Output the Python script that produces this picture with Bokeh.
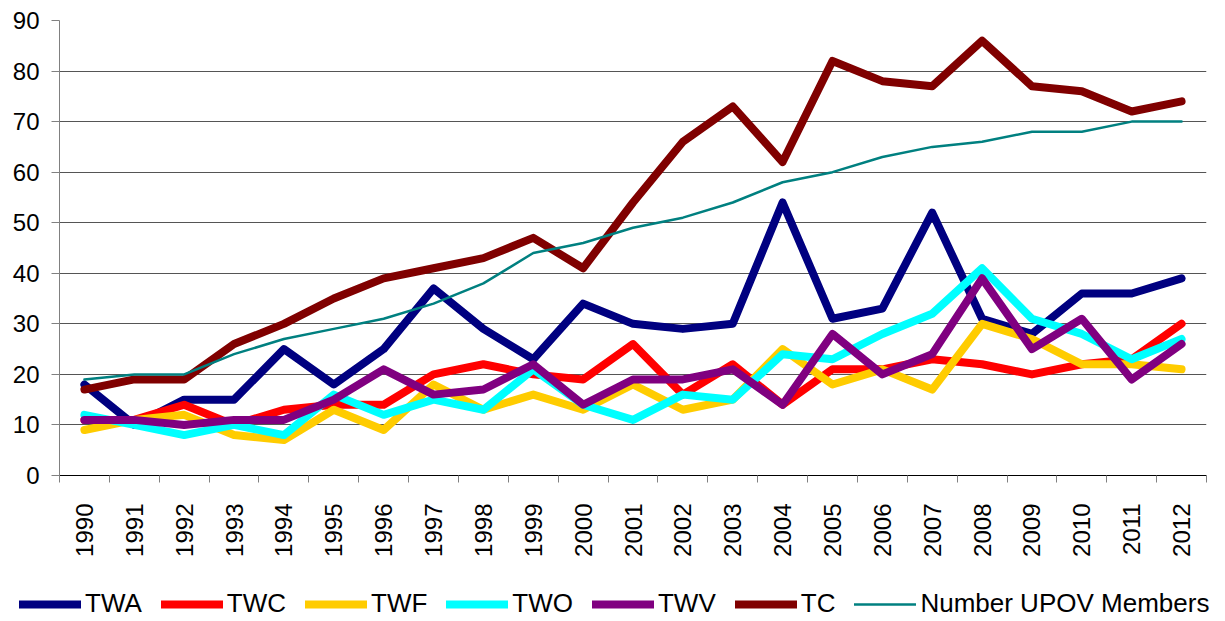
from bokeh.plotting import figure
from bokeh.models import FixedTicker, Legend, LegendItem, Range1d
from bokeh.embed import file_html
from bokeh.resources import INLINE

years = list(range(1990, 2013))
twa = [18, 10, 15, 15, 25, 18, 25, 37, 29, 23, 34, 30, 29, 30, 54, 31, 33, 52, 31, 28, 36, 36, 39]
twc = [11, 11, 14, 10, 13, 14, 14, 20, 22, 20, 19, 26, 16, 22, 14, 21, 21, 23, 22, 20, 22, 23, 30]
twf = [9, 11, 12, 8, 7, 13, 9, 18, 13, 16, 13, 18, 13, 15, 25, 18, 21, 17, 30, 27, 22, 22, 21]
two = [12, 10, 8, 10, 8, 16, 12, 15, 13, 21, 14, 11, 16, 15, 24, 23, 28, 32, 41, 31, 28, 23, 27]
twv = [11, 11, 10, 11, 11, 15, 21, 16, 17, 22, 14, 19, 19, 21, 14, 28, 20, 24, 39, 25, 31, 19, 26]
tc = [17, 19, 19, 26, 30, 35, 39, 41, 43, 47, 41, 54, 66, 73, 62, 82, 78, 77, 86, 77, 76, 72, 74]
upov = [19, 20, 20, 24, 27, 29, 31, 34, 38, 44, 46, 49, 51, 54, 58, 60, 63, 65, 66, 68, 68, 70, 70]

names = ["TWA", "TWC", "TWF", "TWO", "TWV", "TC", "Number UPOV Members"]
values = [twa, twc, twf, two, twv, tc, upov]
colors = ["#000080", "#FF0000", "#FFCC00", "#00FFFF", "#800080", "#800000", "#008080"]
widths = [8, 8, 8, 8, 8, 8, 2.5]

FONT = "Liberation Sans"

p = figure(width=1220, height=560, output_backend="svg", toolbar_location=None,
           x_range=Range1d(1989.5, 2012.5), y_range=Range1d(0, 90),
           min_border_left=59, min_border_right=14, min_border_top=20, min_border_bottom=85)
p.outline_line_color = None
p.background_fill_color = "white"
p.border_fill_color = "white"

p.xaxis.ticker = FixedTicker(ticks=years, minor_ticks=[y - 0.5 for y in years] + [2012.5])
p.xaxis.major_label_orientation = 1.5707963
p.xaxis.major_tick_out = 0
p.xaxis.major_tick_in = 0
p.xaxis.minor_tick_out = 7
p.xaxis.minor_tick_in = 0
p.xaxis.minor_tick_line_color = "#808080"
p.xaxis.axis_line_color = "#000000"
p.xaxis.major_label_standoff = 21
p.xaxis.major_label_text_font = FONT
p.xaxis.major_label_text_font_size = "24px"
p.xaxis.major_label_text_color = "black"
p.xgrid.grid_line_color = None

p.yaxis.ticker = FixedTicker(ticks=list(range(0, 91, 10)), minor_ticks=[])
p.yaxis.major_tick_out = 8
p.yaxis.major_tick_in = 0
p.yaxis.minor_tick_out = 0
p.yaxis.major_tick_line_color = "#808080"
p.yaxis.axis_line_color = "#808080"
p.yaxis.major_label_standoff = 12
p.yaxis.major_label_text_font = FONT
p.yaxis.major_label_text_font_size = "24px"
p.yaxis.major_label_text_color = "black"
p.ygrid.grid_line_color = "#555555"
p.ygrid.grid_line_width = 1

for name, vals, color, w in zip(names, values, colors, widths):
    p.line(years, vals, line_color=color, line_width=w,
           line_join="round", line_cap="round")

# legend strip below the chart (its own root so its frame spans the full width)
lg = figure(width=1220, height=60, output_backend="svg", toolbar_location=None,
            x_range=Range1d(0, 1), y_range=Range1d(0, 1),
            x_axis_location=None, y_axis_location=None,
            min_border_left=0, min_border_right=0, min_border_top=0, min_border_bottom=0)
lg.outline_line_color = None
lg.grid.visible = False
items = []
for name, vals, color, w in zip(names, values, colors, widths):
    # same series, but outside this strip's visible ranges: only the legend swatch shows
    r = lg.line(years, vals, line_color=color, line_width=w, line_cap="round")
    items.append(LegendItem(label=name, renderers=[r]))
legend = Legend(items=items, orientation="horizontal", location=(19, 1),
                glyph_width=62, glyph_height=26, label_height=26,
                label_standoff=4, spacing=19, padding=0, margin=0,
                border_line_color=None, background_fill_alpha=0,
                label_text_font=FONT, label_text_font_size="26px",
                label_text_color="black")
lg.add_layout(legend, "center")

open("out.html", "w").write(file_html([p, lg], INLINE))
